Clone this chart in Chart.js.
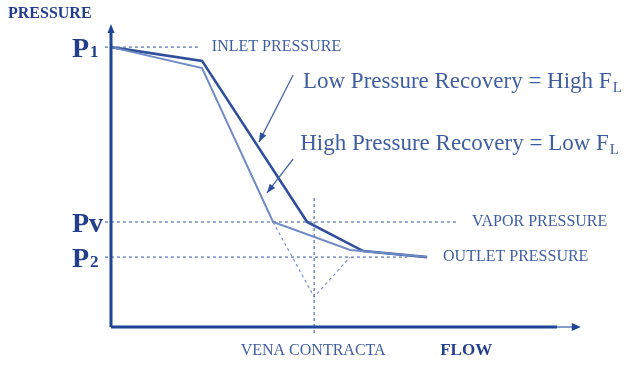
<!DOCTYPE html>
<html>
<head>
<meta charset="utf-8">
<script src="https://cdn.jsdelivr.net/npm/chart.js@4.4.1/dist/chart.umd.min.js"></script>
<style>
  html, body { margin: 0; padding: 0; background: #fff; }
  #wrap { width: 643px; height: 371px; }
</style>
</head>
<body>
<div id="wrap"><canvas id="chart"></canvas></div>
<script>
// pressure levels (arbitrary units, axis 0..100)
const levelValues = [93.3, 35, 23.3];
const levelNames = ['P', 'Pv', 'P'];
const levelSubs = ['1', '', '2'];
const levelLabels = ['INLET PRESSURE', 'VAPOR PRESSURE', 'OUTLET PRESSURE'];
const levelLineEnds = [19, 74.3, 63.4];

// pressure profiles through the valve
const lowRecoveryX = [0, 19.5, 42, 54, 67.7];
const lowRecoveryY = [93.3, 88.7, 35, 25.3, 23.3];
const highRecoveryX = [0, 19.5, 34.7, 51.2, 67.7];
const highRecoveryY = [93.3, 86.3, 35, 25.7, 23.3];

// vena contracta and the dashed notch below it
const venaContractaX = 43.5;
const venaLineY = [-2, 44];
const notchX = [34.7, 43.5, 51.2];
const notchY = [35, 10, 23.3];

const pts = (xs, ys) => xs.map((x, i) => ({ x, y: ys[i] }));

const dark = '#2f4f9c';
const light = '#6f8bc6';
const dash = '#5c79b8';
const axisCol = '#1f4596';
const textCol = '#3f5ea2';
const navy = '#233f8c';
const serif = '"Liberation Serif", "DejaVu Serif", serif';

const datasets = [];
// axes
datasets.push({ data: [{ x: 0, y: 0 }, { x: 0, y: 99 }], borderColor: axisCol, borderWidth: 3 });
datasets.push({ data: [{ x: 0, y: 0 }, { x: 95.5, y: 0 }], borderColor: axisCol, borderWidth: 3 });
datasets.push({ data: [{ x: 95.5, y: 0 }, { x: 99, y: 0 }], borderColor: '#5b7bbd', borderWidth: 1.5 });
// dashed level lines
levelValues.forEach((v, i) => {
  datasets.push({
    data: [{ x: -1.3, y: v }, { x: levelLineEnds[i], y: v }],
    borderColor: dash, borderWidth: 1.3, borderDash: [3, 3]
  });
});
datasets.push({
  data: [{ x: venaContractaX, y: venaLineY[0] }, { x: venaContractaX, y: venaLineY[1] }],
  borderColor: dash, borderWidth: 1.3, borderDash: [3, 3]
});
datasets.push({ data: pts(notchX, notchY), borderColor: '#7f95c6', borderWidth: 1.2, borderDash: [3, 3] });
// profiles
datasets.push({ data: pts(highRecoveryX, highRecoveryY), borderColor: light, borderWidth: 2 });
datasets.push({ data: pts(lowRecoveryX, lowRecoveryY), borderColor: dark, borderWidth: 2.6 });

datasets.forEach((d) => {
  d.showLine = true;
  d.pointRadius = 0;
  d.tension = 0;
  d.clip = false;
});

function subText(ctx, main, sub, x, y, size, subSize, drop, weight, color) {
  ctx.fillStyle = color;
  ctx.textBaseline = 'alphabetic';
  ctx.textAlign = 'left';
  ctx.font = `${weight} ${size}px ${serif}`;
  ctx.fillText(main, x, y);
  const w = ctx.measureText(main).width;
  ctx.font = `${weight} ${subSize}px ${serif}`;
  ctx.fillText(sub, x + w + 1, y + drop);
}

function arrowHead(ctx, x1, y1, x2, y2, len, wid, color) {
  const a = Math.atan2(y2 - y1, x2 - x1);
  ctx.save();
  ctx.fillStyle = color;
  ctx.translate(x2, y2);
  ctx.rotate(a);
  ctx.beginPath();
  ctx.moveTo(0, 0);
  ctx.lineTo(-len, -wid / 2);
  ctx.lineTo(-len, wid / 2);
  ctx.closePath();
  ctx.fill();
  ctx.restore();
}

const labelsPlugin = {
  id: 'labels',
  afterDatasetsDraw(chart) {
    const ctx = chart.ctx;
    const px = (v) => chart.scales.x.getPixelForValue(v);
    const py = (v) => chart.scales.y.getPixelForValue(v);
    ctx.save();

    // axis arrow heads
    arrowHead(ctx, px(0), py(90), px(0), py(101), 9, 7, axisCol);
    arrowHead(ctx, px(90), py(0), px(100.6), py(0), 9, 8, axisCol);

    // axis titles
    ctx.fillStyle = navy;
    ctx.textBaseline = 'middle';
    ctx.textAlign = 'left';
    ctx.font = `bold 16px ${serif}`;
    ctx.fillText('PRESSURE', 8, 14);
    ctx.font = `bold 17px ${serif}`;
    ctx.fillText('FLOW', px(70.5), py(-8));

    ctx.fillStyle = textCol;
    ctx.font = `16px ${serif}`;
    ctx.textAlign = 'center';
    ctx.fillText('VENA CONTRACTA', px(venaContractaX) - 1, py(-7.8));

    // level names and labels
    const labelX = [21.6, 77.3, 71.1];
    levelValues.forEach((v, i) => {
      subText(ctx, levelNames[i], levelSubs[i], px(0) - 39, py(v) + 9.5, 28, 17, 0, 'bold', navy);
      ctx.fillStyle = textCol;
      ctx.font = `16px ${serif}`;
      ctx.textAlign = 'left';
      ctx.textBaseline = 'middle';
      ctx.fillText(levelLabels[i], px(labelX[i]), py(v));
    });

    // recovery notes
    subText(ctx, 'Low Pressure Recovery = High F', 'L', px(41.1), py(82) + 7, 23, 15, 4, 'normal', textCol);
    subText(ctx, 'High Pressure Recovery = Low F', 'L', px(40.5), py(61.3) + 7, 23, 15, 4, 'normal', textCol);

    // leader arrows
    const leaders = [
      [39, 84, 31.7, 61.7],
      [39, 56, 33.4, 44.7]
    ];
    ctx.strokeStyle = '#4a68ab';
    ctx.lineWidth = 1.3;
    leaders.forEach(([x1, y1, x2, y2]) => {
      ctx.beginPath();
      ctx.moveTo(px(x1), py(y1));
      ctx.lineTo(px(x2), py(y2));
      ctx.stroke();
      arrowHead(ctx, px(x1), py(y1), px(x2), py(y2), 9, 7, '#2f4f9c');
    });

    ctx.restore();
  }
};

new Chart(document.getElementById('chart'), {
  type: 'scatter',
  data: { datasets },
  options: {
    responsive: true,
    maintainAspectRatio: false,
    animation: false,
    layout: { padding: { left: 111, right: 65, top: 27, bottom: 44 } },
    scales: {
      x: { type: 'linear', min: 0, max: 100, display: false },
      y: { type: 'linear', min: 0, max: 100, display: false }
    },
    plugins: { legend: { display: false }, tooltip: { enabled: false } }
  },
  plugins: [labelsPlugin]
});
</script>
</body>
</html>
